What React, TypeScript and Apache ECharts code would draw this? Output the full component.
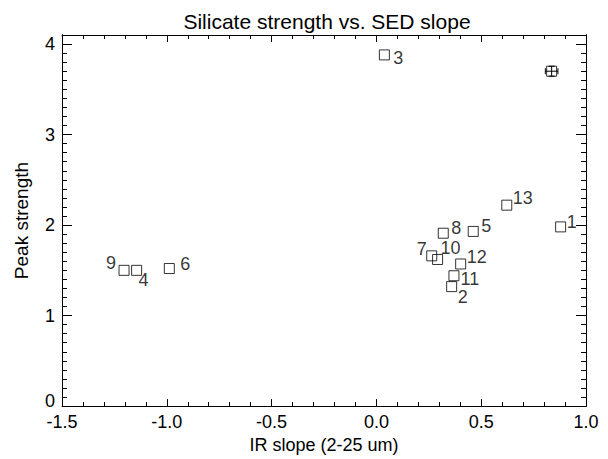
import React, { useEffect, useRef } from "react";
import * as echarts from "echarts";

// ---- data ----
const pointNames = ["1", "2", "3", "4", "5", "6", "7", "8", "9", "10", "11", "12", "13"];
const irSlope = [0.879, 0.359, 0.038, -1.144, 0.462, -0.988, 0.264, 0.319, -1.204, 0.292, 0.37, 0.402, 0.622];
const peakStrength = [1.98, 1.32, 3.88, 1.5, 1.93, 1.52, 1.66, 1.91, 1.5, 1.62, 1.44, 1.57, 2.22];

const refSlope = [0.836];
const refStrength = [3.7];
const refSlopeErr = [0.03];
const refStrengthErr = [0.055];

const xTicks = [-1.5, -1.0, -0.5, 0.0, 0.5, 1.0];
const yTicks = [0, 1, 2, 3, 4];

// ---- layout (label offsets in px, relative to marker centre) ----
const labelOffsets: [number, number][] = [
  [11, -5], [11, 10], [14, 3], [7, 10], [13, -5], [16, -5], [-10, -7],
  [13, -5], [-13, -7], [13, -11], [16, 3], [16, -7], [16, -7],
];

const FONT = "'Liberation Sans', Arial, Helvetica, sans-serif";

export default function App() {
  const ref = useRef<HTMLDivElement>(null);
  useEffect(() => {
    if (!ref.current) return;
    const chart = echarts.init(ref.current, undefined, { renderer: "svg" });
    const fmtX = (v: number) => {
      const hit = xTicks.find((t) => Math.abs(t - v) < 1e-6);
      return hit === undefined ? "" : hit.toFixed(1);
    };
    const fmtY = (v: number) => {
      const hit = yTicks.find((t) => Math.abs(t - v) < 1e-6);
      if (hit === undefined) return "";
      return hit === 0 ? "{z|0}" : String(hit);
    };
    const axisLine = { show: true, onZero: false, lineStyle: { color: "#000", width: 1 } };
    const xBase = {
      type: "value",
      min: -1.5,
      max: 1.0,
      interval: 0.5,
      splitLine: { show: false },
      axisLine,
    };
    const yMajor = {
      type: "value",
      min: 0,
      max: 4.1,
      interval: 1,
      splitLine: { show: false },
      axisLine,
    };
    const yMinor = {
      type: "value",
      min: 0,
      max: 4.1,
      interval: 0.1,
      offset: 0,
      splitLine: { show: false },
      axisLine,
      axisLabel: { show: true, color: "rgba(0,0,0,0)", formatter: () => "" },
      axisTick: { show: true, inside: true, length: 5, lineStyle: { color: "#000", width: 1 } },
    };
    const option: any = {
      animation: false,
      backgroundColor: "#fff",
      textStyle: { fontFamily: FONT, color: "#000" },
      title: {
        text: "Silicate strength vs. SED slope",
        left: 322,
        top: 6,
        textAlign: "center",
        textStyle: { fontFamily: FONT, fontSize: 21, fontWeight: "normal", color: "#000" },
      },
      grid: { left: 62, right: 22, top: 35, bottom: 51 },
      xAxis: [
        {
          ...xBase,
          position: "bottom",
          name: "IR slope (2-25 um)",
          nameLocation: "middle",
          nameGap: 25,
          nameTextStyle: { fontFamily: FONT, fontSize: 18, color: "#000" },
          axisTick: { show: true, inside: true, length: 7, lineStyle: { color: "#000" } },
          minorTick: { show: true, splitNumber: 5, length: 4, lineStyle: { color: "#000" } },
          axisLabel: { show: true, margin: 7, fontFamily: FONT, fontSize: 18, color: "#000", formatter: fmtX },
        },
        {
          ...xBase,
          position: "top",
          axisTick: { show: true, inside: true, length: 7, lineStyle: { color: "#000" } },
          minorTick: { show: true, splitNumber: 5, length: 4, lineStyle: { color: "#000" } },
          axisLabel: { show: false },
        },
      ],
      yAxis: [
        {
          ...yMajor,
          position: "left",
          name: "Peak strength",
          nameLocation: "middle",
          nameGap: 31,
          nameTextStyle: { fontFamily: FONT, fontSize: 19, color: "#000" },
          axisTick: { show: true, inside: true, length: 10, lineStyle: { color: "#000" } },
          axisLabel: {
            show: true,
            margin: 7,
            fontFamily: FONT,
            fontSize: 18,
            color: "#000",
            formatter: fmtY,
            rich: { z: { fontFamily: FONT, fontSize: 18, color: "#000", padding: [0, 0, 11, 0] } },
          },
        },
        { ...yMinor, position: "left" },
        {
          ...yMajor,
          position: "right",
          axisTick: { show: true, inside: true, length: 10, lineStyle: { color: "#000" } },
          axisLabel: { show: false },
        },
        { ...yMinor, position: "right" },
      ],
      series: [
        {
          type: "scatter",
          xAxisIndex: 0,
          yAxisIndex: 0,
          symbol: "rect",
          symbolSize: 10,
          itemStyle: { color: "rgba(0,0,0,0)", borderColor: "#000", borderWidth: 1 },
          label: {
            show: true,
            position: "inside",
            fontFamily: FONT,
            fontSize: 18,
            lineHeight: 13,
            color: "#000",
            formatter: (p: any) => p.name,
          },
          data: irSlope.map((x, i) => ({
            name: pointNames[i],
            value: [x, peakStrength[i]],
            label: { offset: labelOffsets[i] },
          })),
        },
        {
          type: "scatter",
          xAxisIndex: 0,
          yAxisIndex: 0,
          symbol: "rect",
          symbolSize: 10,
          itemStyle: { color: "rgba(0,0,0,0)", borderColor: "#000", borderWidth: 1 },
          data: refSlope.map((x, i) => [x, refStrength[i]]),
        },
        {
          type: "custom",
          xAxisIndex: 0,
          yAxisIndex: 0,
          data: refSlope.map((x, i) => [x, refStrength[i], refSlopeErr[i], refStrengthErr[i]]),
          renderItem: (params: any, api: any) => {
            const x = api.value(0);
            const y = api.value(1);
            const ex = api.value(2);
            const ey = api.value(3);
            const l = api.coord([x - ex, y]);
            const r = api.coord([x + ex, y]);
            const t = api.coord([x, y + ey]);
            const b = api.coord([x, y - ey]);
            const cap = 3;
            const st = { stroke: "#000", lineWidth: 1 };
            const ln = (x1: number, y1: number, x2: number, y2: number) => ({
              type: "line",
              shape: { x1, y1, x2, y2 },
              style: st,
            });
            return {
              type: "group",
              children: [
                ln(l[0], l[1], r[0], r[1]),
                ln(l[0], l[1] - cap, l[0], l[1] + cap),
                ln(r[0], r[1] - cap, r[0], r[1] + cap),
                ln(t[0], t[1], b[0], b[1]),
                ln(t[0] - cap, t[1], t[0] + cap, t[1]),
                ln(b[0] - cap, b[1], b[0] + cap, b[1]),
              ],
            };
          },
        },
      ],
    };
    chart.setOption(option);
    return () => chart.dispose();
  }, []);
  return (
    <div
      ref={ref}
      style={{ position: "fixed", left: 0, top: 0, width: 608, height: 459 }}
    />
  );
}
